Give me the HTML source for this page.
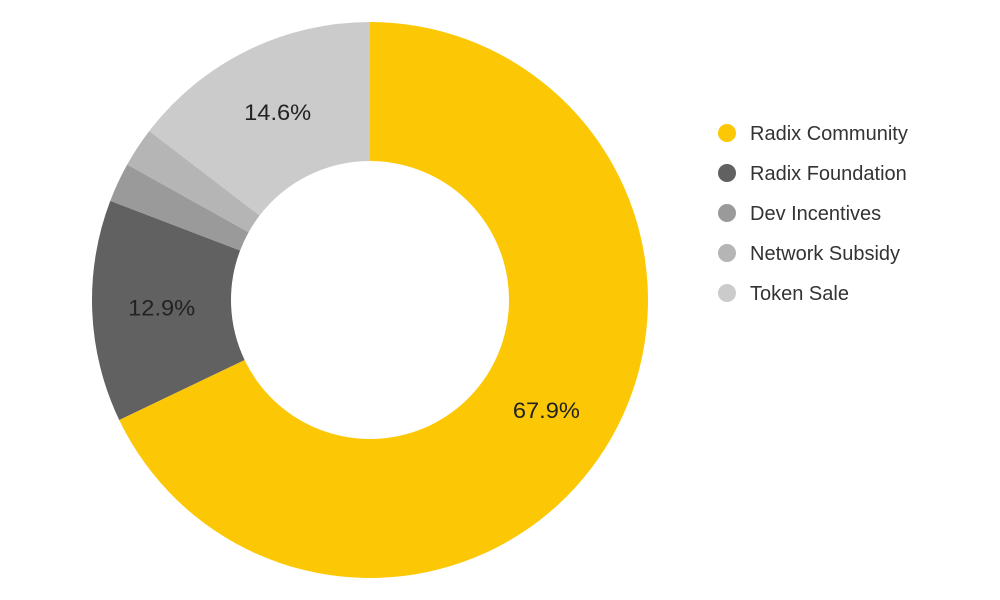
<!DOCTYPE html>
<html><head><meta charset="utf-8"><style>
html,body{margin:0;padding:0;background:#fff;width:1000px;height:600px;overflow:hidden}
svg{display:block}
text{font-family:"Liberation Sans",Arial,sans-serif}
</style></head><body>
<svg id="chart" width="1000" height="600"></svg>
<script>
const categories=["Radix Community","Radix Foundation","Dev Incentives","Network Subsidy","Token Sale"];
const values=[67.9,12.9,2.3,2.3,14.6];
const colors=["#fcc806","#616161","#9a9a9a","#b5b5b5","#cbcbcb"];
const NS="http://www.w3.org/2000/svg";
const svg=document.getElementById("chart");
const cx=370,cy=300,R=278,r=139;
const total=values.reduce((a,b)=>a+b,0);
function pt(rad,a){return [cx+rad*Math.sin(a),cy-rad*Math.cos(a)];}
let acc=0;
values.forEach((v,i)=>{
  const a0=acc/total*2*Math.PI; acc+=v; const a1=acc/total*2*Math.PI;
  const large=(a1-a0)>Math.PI?1:0;
  const [x0,y0]=pt(R,a0),[x1,y1]=pt(R,a1),[x2,y2]=pt(r,a1),[x3,y3]=pt(r,a0);
  const p=document.createElementNS(NS,"path");
  p.setAttribute("d",`M${x0},${y0}A${R},${R} 0 ${large} 1 ${x1},${y1}L${x2},${y2}A${r},${r} 0 ${large} 0 ${x3},${y3}Z`);
  p.setAttribute("fill",colors[i]);
  
  
  svg.appendChild(p);
  const pct=v/total*100;
  if(pct>5){
    const [lx,ly]=pt((R+r)/2,(a0+a1)/2);
    const t=document.createElementNS(NS,"text");
    t.setAttribute("x",lx);t.setAttribute("y",ly+7);t.setAttribute("text-anchor","middle");
    t.setAttribute("font-size","22");t.setAttribute("fill","#222");
    t.setAttribute("textLength","67");t.setAttribute("lengthAdjust","spacingAndGlyphs");
    t.textContent=pct.toFixed(1)+"%";
    
    
    svg.appendChild(t);
  }
  const ly=133+i*40;
  const c=document.createElementNS(NS,"circle");
  c.setAttribute("cx",727);c.setAttribute("cy",ly);c.setAttribute("r",9);c.setAttribute("fill",colors[i]);
  
  
  svg.appendChild(c);
  const lt=document.createElementNS(NS,"text");
  lt.setAttribute("x",750);lt.setAttribute("y",ly+7);lt.setAttribute("font-size","20");lt.setAttribute("fill","#333");
  lt.textContent=categories[i];
  
  
  svg.appendChild(lt);
});
</script>
</body></html>
